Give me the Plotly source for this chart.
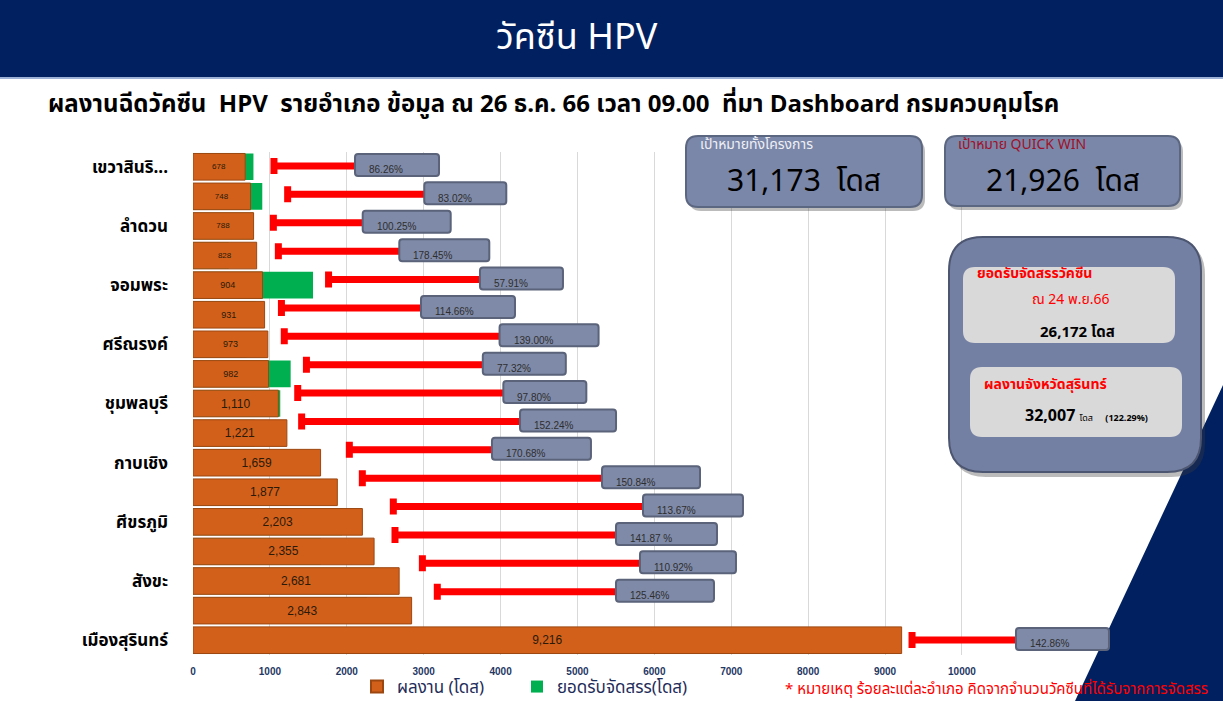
import plotly.graph_objects as go

# ---------------- data (top row first) ----------------
row_labels = ["เขวาสินริ...", "", "ลำดวน", "", "จอมพระ", "", "ศรีณรงค์", "", "ชุมพลบุรี", "",
              "กาบเชิง", "", "ศีขรภูมิ", "", "สังขะ", "", "เมืองสุรินทร์"]
results = [678, 748, 788, 828, 904, 931, 973, 982, 1110, 1221, 1659, 1877, 2203, 2355, 2681, 2843, 9216]
allocation = [786, 901, 786, 464, 1561, 812, 700, 1270, 1135, 802, 972, 1244, 1938, 1660, 2417, 2266, 6451]
pct_labels = ["86.26%", "83.02%", "100.25%", "178.45%", "57.91%", "114.66%", "139.00%", "77.32%",
              "97.80%", "152.24%", "170.68%", "150.84%", "113.67%", "141.87 %", "110.92%", "125.46%", "142.86%"]
# callout series (secondary axis): where the red line starts, where the label box sits, and its row
line_start = [1053, 1231, 1045, 1110, 1763, 1150, 1187, 1475, 1362, 1413, 2033, 2202, 2605, 2627, 2983, 3177, 9351]
label_x = [2159, 3060, 2259, 2735, 3784, 3017, 4039, 3821, 4088, 4305, 3940, 5371, 5904, 5553, 5865, 5553, 10755]
callout_row = [0, 1, 2, 3, 4, 5, 6, 7, 8, 9, 10, 11, 12, 13, 14, 15, 16.7]
x_ticks = [0, 1000, 2000, 3000, 4000, 5000, 6000, 7000, 8000, 9000, 10000]

# ---------------- styles ----------------
box_w_px = [84, 82, 88, 90, 83, 94, 99, 83, 83, 96, 99, 98, 100, 101, 96, 98, 93]
bar_font = [8, 8, 8, 8, 9, 9, 9, 9, 12, 12, 12, 12, 12, 12, 12, 12, 12]
THAI = "Tahoma, 'Noto Sans Thai', 'Leelawadee UI', 'Noto Sans', sans-serif"
NAVY = "#002060"
ORANGE = "#d2601a"
GREEN = "#00b050"

W, H = 1223, 701
ML, MR, MT, MB = 193, 15, 152, 46
PW, PH = W - ML - MR, H - MT - MB


def px(v):
    return (v - ML) / PW


def py(v):
    return (H - MB - v) / PH


def rrect(x0, y0, x1, y1, r):
    return (f"M {px(x0 + r)},{py(y0)} L {px(x1 - r)},{py(y0)} Q {px(x1)},{py(y0)} {px(x1)},{py(y0 + r)} "
            f"L {px(x1)},{py(y1 - r)} Q {px(x1)},{py(y1)} {px(x1 - r)},{py(y1)} "
            f"L {px(x0 + r)},{py(y1)} Q {px(x0)},{py(y1)} {px(x0)},{py(y1 - r)} "
            f"L {px(x0)},{py(y0 + r)} Q {px(x0)},{py(y0)} {px(x0 + r)},{py(y0)} Z")


rows = list(range(len(results)))

fig = go.Figure()
fig.add_trace(go.Bar(
    orientation="h", y=rows, x=allocation, name="ยอดรับจัดสรร(โดส)", width=0.9,
    marker=dict(color=GREEN, line=dict(width=0)), legend="legend2", hoverinfo="skip"))
fig.add_trace(go.Bar(
    orientation="h", y=rows, x=results, name="ผลงาน (โดส)", width=0.9,
    marker=dict(color=ORANGE, line=dict(color="#9c4710", width=1)),
    texttemplate="%{x:,}", textposition="inside", insidetextanchor="middle", textangle=0,
    textfont=dict(size=bar_font, color="#2a1a0a", family="Arial"), legend="legend",
    hoverinfo="skip"))
fig.add_trace(go.Scatter(
    x=label_x, y=callout_row, yaxis="y2", mode="markers", showlegend=False, hoverinfo="skip",
    marker=dict(size=1, color="rgba(0,0,0,0)"),
    error_x=dict(type="data", symmetric=False, array=[0] * len(label_x),
                 arrayminus=[a - b for a, b in zip(label_x, line_start)],
                 color="#ff0000", thickness=7, width=8)))

shapes = []
annotations = []

# callout label boxes (start a few px before the anchor so the line's end cap is hidden)
for lx, cr, w, t in zip(label_x, callout_row, box_w_px, pct_labels):
    r, a, b = 3, -4, w - 4
    path = (f"M {a + r},-10 L {b - r},-10 Q {b},-10 {b},{-10 + r} L {b},{12 - r} Q {b},12 {b - r},12 "
            f"L {a + r},12 Q {a},12 {a},{12 - r} L {a},{-10 + r} Q {a},-10 {a + r},-10 Z")
    shapes.append(dict(type="path", xref="x", yref="y2", xsizemode="pixel", ysizemode="pixel",
                       xanchor=lx, yanchor=cr, path=path, fillcolor="#7f8aa8",
                       line=dict(color="#5a6379", width=2), layer="above"))
    annotations.append(dict(x=lx, y=cr, xref="x", yref="y2", xanchor="left", yanchor="middle",
                            xshift=8, yshift=-4, text=t, showarrow=False,
                            font=dict(size=10, color="#2e2e2e", family="Arial")))

# header band
shapes.append(dict(type="rect", xref="paper", yref="paper", x0=px(0), x1=px(W), y0=py(0), y1=py(77),
                   fillcolor=NAVY, line=dict(width=0), layer="below"))
shapes.append(dict(type="line", xref="paper", yref="paper", x0=px(0), x1=px(W), y0=py(78), y1=py(78),
                   line=dict(color="#9db0d6", width=2), layer="below"))
# navy triangle bottom-right
shapes.append(dict(type="path", xref="paper", yref="paper",
                   path=f"M {px(1223)},{py(385)} L {px(1223)},{py(701)} L {px(1075)},{py(701)} Z",
                   fillcolor=NAVY, line=dict(width=0), layer="below"))

# target boxes
for (x0, y0, x1, y1) in [(686, 136, 922, 207), (945, 136, 1180, 206)]:
    shapes.append(dict(type="path", xref="paper", yref="paper", path=rrect(x0 + 3, y0 + 4, x1 + 3, y1 + 4, 12),
                       fillcolor="rgba(60,60,60,0.35)", line=dict(width=0), layer="above"))
    shapes.append(dict(type="path", xref="paper", yref="paper", path=rrect(x0, y0, x1, y1, 12),
                       fillcolor="#7b87a8", line=dict(color="#5b6680", width=2), layer="above"))
# big panel
shapes.append(dict(type="path", xref="paper", yref="paper", path=rrect(952, 241, 1205, 477, 34),
                   fillcolor="rgba(60,60,60,0.35)", line=dict(width=0), layer="above"))
shapes.append(dict(type="path", xref="paper", yref="paper", path=rrect(949, 237, 1201, 472, 34),
                   fillcolor="#7480a3", line=dict(color="#4d5670", width=2), layer="above"))
shapes.append(dict(type="path", xref="paper", yref="paper", path=rrect(963, 267, 1175, 343, 12),
                   fillcolor="#d9d9d9", line=dict(width=0), layer="above"))
shapes.append(dict(type="path", xref="paper", yref="paper", path=rrect(970, 367, 1182, 437, 12),
                   fillcolor="#d9d9d9", line=dict(width=0), layer="above"))


def ann(xp, yp, text, size, color, xanchor="left", family=THAI, bold=False):
    annotations.append(dict(x=px(xp), y=py(yp), xref="paper", yref="paper", xanchor=xanchor,
                            yanchor="middle", text=f"<b>{text}</b>" if bold else text,
                            showarrow=False, font=dict(size=size, color=color, family=family)))


ann(577, 38, "วัคซีน HPV", 36, "white", "center")
ann(46, 105, "ผลงานฉีดวัคซีน  HPV  รายอำเภอ ข้อมูล ณ 26 ธ.ค. 66 เวลา 09.00  ที่มา Dashboard กรมควบคุมโรค",
    24, "black", "left", bold=True)
ann(698, 145, "เป้าหมายทั้งโครงการ", 14, "#eef0f6")
ann(804, 182, "31,173  โดส", 30, "black", "center")
ann(956, 145, "เป้าหมาย QUICK WIN", 14, "#a0102a")
ann(1063, 182, "21,926  โดส", 30, "black", "center")
ann(975, 273, "ยอดรับจัดสรรวัคซีน", 14, "#ff0000", bold=True)
ann(1071, 299, "ณ 24 พ.ย.66", 14, "#ff0000", "center")
ann(1077, 332, "26,172 โดส", 15, "black", "center", bold=True)
ann(982, 384, "ผลงานจังหวัดสุรินทร์", 14, "#ff0000", bold=True)
annotations.append(dict(x=px(1023), y=py(416), xref="paper", yref="paper", xanchor="left", yanchor="middle",
                        showarrow=False,
                        text="<b><span style='font-size:16px'>32,007</span></b> "
                             "<span style='font-size:9px'>โดส</span>&nbsp;&nbsp;&nbsp;"
                             "<b><span style='font-size:9px'>(122.29%)</span></b>",
                        font=dict(size=16, color="black", family=THAI)))
ann(1210, 689, "* หมายเหตุ ร้อยละแต่ละอำเภอ คิดจากจำนวนวัคซีนที่ได้รับจากการจัดสรร", 15, "#ff0000", "right")

legend_style = dict(orientation="h", y=py(687), xanchor="left", yanchor="middle",
                    font=dict(size=17, color="#1f2d5a", family=THAI), bgcolor="rgba(0,0,0,0)",
                    itemsizing="constant")

fig.update_layout(
    width=W, height=H, autosize=False,
    margin=dict(l=ML, r=MR, t=MT, b=MB, pad=0, autoexpand=False),
    paper_bgcolor="white", plot_bgcolor="rgba(0,0,0,0)",
    barmode="overlay",
    font=dict(family=THAI),
    xaxis=dict(range=[0, 13200], tickvals=x_ticks, ticktext=[str(v) for v in x_ticks],
               showgrid=True, gridcolor="#d9d9d9", gridwidth=1, zeroline=False, showline=False,
               ticks="", ticklabelstandoff=9,
               tickfont=dict(size=10, color="#1f3864", family="Arial", weight="bold")),
    yaxis=dict(range=[16.5, -0.5], tickvals=rows, ticktext=row_labels, showgrid=False,
               zeroline=False, showline=False, ticks="", ticklabelstandoff=24,
               tickfont=dict(size=17, color="black", family=THAI, weight="bold")),
    yaxis2=dict(range=[17.23, -0.493], overlaying="y", visible=False, showgrid=False),
    legend=dict(x=px(357), **legend_style),
    legend2=dict(x=px(517), **legend_style),
    shapes=shapes, annotations=annotations, showlegend=True,
)

fig.write_html("out.html", config={"displayModeBar": False},
               post_script="document.body.style.margin='0';document.body.style.overflow='hidden';")
